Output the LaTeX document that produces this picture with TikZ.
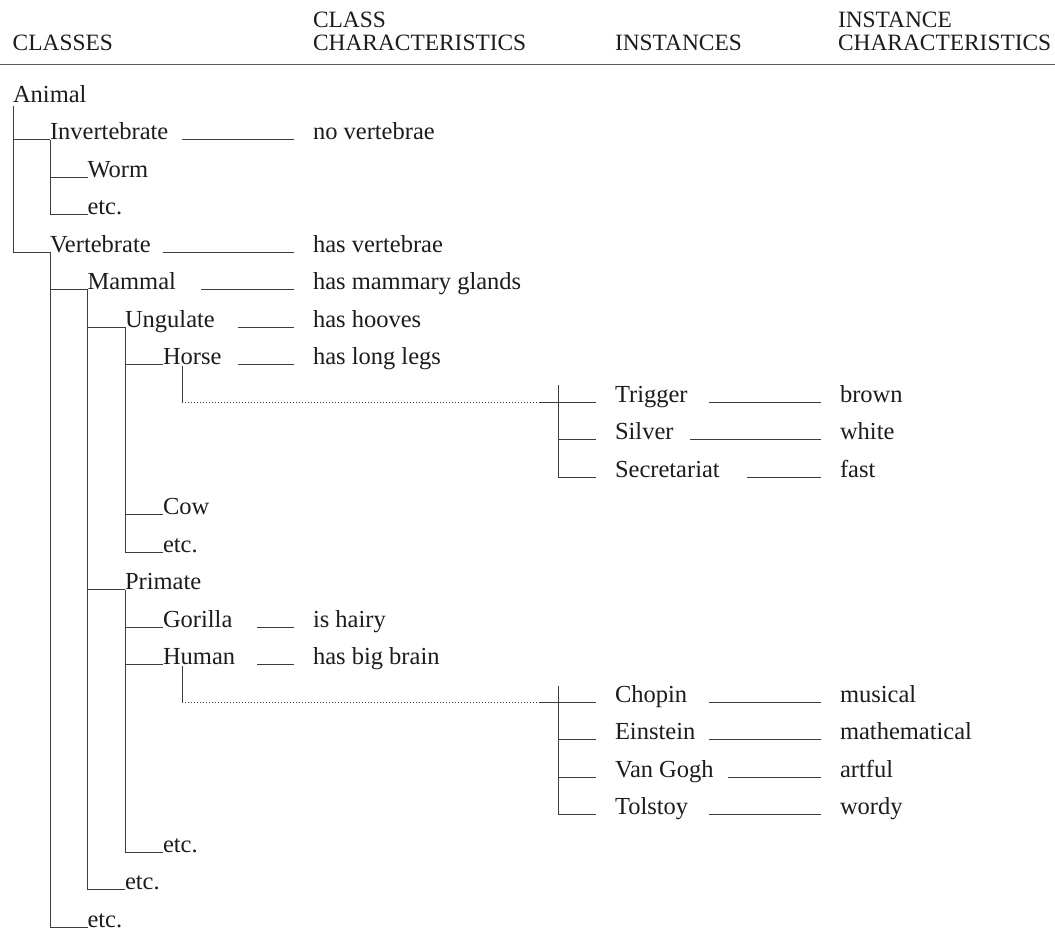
\documentclass[tikz,border=0pt]{standalone}
\usepackage{fontspec}
\setmainfont{Liberation Serif}
\usetikzlibrary{calc}
\definecolor{ink}{HTML}{1E1B1C}
\definecolor{wire}{HTML}{3C3C3C}
\definecolor{rulegray}{HTML}{5A5A5A}
\tikzset{
  lbl/.style={anchor=base west, inner sep=0pt, outer sep=0pt, text=ink,
              font=\fontsize{24.5}{29}\selectfont},
  hdr/.style={lbl, font=\fontsize{23.4}{28}\selectfont},
  link/.style={draw=wire, line width=1pt},
  leader/.style={draw=wire, line width=1pt},
  dots/.style={draw=wire, line width=0.8pt, dash pattern=on 1.2pt off 1.8pt},
  headrule/.style={draw=rulegray, line width=1.7pt},
}
\begin{document}
\begin{tikzpicture}[x=1pt,y=-1pt]
\useasboundingbox (0,0) rectangle (1055,932);

% column headings
\node[hdr] (hcls) at (12.7,50) {CLASSES};
\node[hdr] (hcc1) at (313,27.7) {CLASS};
\node[hdr] (hcc2) at (313,50) {CHARACTERISTICS};
\node[hdr] (hins) at (615,50) {INSTANCES};
\node[hdr] (hic1) at (838,27.7) {INSTANCE};
\node[hdr] (hic2) at (838,50) {CHARACTERISTICS};
\coordinate (ruleL) at (0,64.5);
\coordinate (ruleR) at (1055,64.5);
\draw[headrule] (ruleL) -- (ruleR);

% class hierarchy (rows 37.5 apart)
\node[lbl] (animal) at (13,102)    {Animal};
\node[lbl] (inv)    at (50,139.5)  {Invertebrate};
\node[lbl] (worm)   at (87.5,177)  {Worm};
\node[lbl] (etcA)   at (87.5,214.5){etc.};
\node[lbl] (vert)   at (50,252)    {Vertebrate};
\node[lbl] (mam)    at (87.5,289.5){Mammal};
\node[lbl] (ung)    at (125,327)   {Ungulate};
\node[lbl] (horse)  at (163,364.5) {Horse};
\node[lbl] (cow)    at (163,514.5) {Cow};
\node[lbl] (etcB)   at (163,552)   {etc.};
\node[lbl] (prim)   at (125,589.5) {Primate};
\node[lbl] (gor)    at (163,627)   {Gorilla};
\node[lbl] (hum)    at (163,664.5) {Human};
\node[lbl] (etcC)   at (163,852)   {etc.};
\node[lbl] (etcD)   at (125,889.5) {etc.};
\node[lbl] (etcE)   at (87.5,927)  {etc.};

% class characteristics
\node[lbl] (novert)  at (313,139.5) {no vertebrae};
\node[lbl] (hasvert) at (313,252)   {has vertebrae};
\node[lbl] (glands)  at (313,289.5) {has mammary glands};
\node[lbl] (hooves)  at (313,327)   {has hooves};
\node[lbl] (legs)    at (313,364.5) {has long legs};
\node[lbl] (hairy)   at (313,627)   {is hairy};
\node[lbl] (brain)   at (313,664.5) {has big brain};

% instances
\node[lbl] (trig) at (615,402)   {Trigger};
\node[lbl] (silv) at (615,439.5) {Silver};
\node[lbl] (secr) at (615,477)   {Secretariat};
\node[lbl] (chop) at (615,702)   {Chopin};
\node[lbl] (ein)  at (615,739.5) {Einstein};
\node[lbl] (vang) at (615,777)   {Van Gogh};
\node[lbl] (tol)  at (615,814.5) {Tolstoy};

% instance characteristics
\node[lbl] (brown)  at (840,402)   {brown};
\node[lbl] (white)  at (840,439.5) {white};
\node[lbl] (fast)   at (840,477)   {fast};
\node[lbl] (music)  at (840,702)   {musical};
\node[lbl] (math)   at (840,739.5) {mathematical};
\node[lbl] (artful) at (840,777)   {artful};
\node[lbl] (wordy)  at (840,814.5) {wordy};

% tree connectors
\draw[link] ([yshift=-4pt]animal.base west) |- (inv.base west);
\draw[link] ([yshift=-4pt]animal.base west) |- (vert.base west);
\draw[link] (inv.base west) |- (worm.base west);
\draw[link] (inv.base west) |- (etcA.base west);
\draw[link] (vert.base west) |- (mam.base west);
\draw[link] (vert.base west) |- (etcE.base west);
\draw[link] (mam.base west) |- (ung.base west);
\draw[link] (mam.base west) |- (prim.base west);
\draw[link] (mam.base west) |- (etcD.base west);
\draw[link] (ung.base west) |- (horse.base west);
\draw[link] (ung.base west) |- (cow.base west);
\draw[link] (ung.base west) |- (etcB.base west);
\draw[link] (prim.base west) |- (gor.base west);
\draw[link] (prim.base west) |- (hum.base west);
\draw[link] (prim.base west) |- (etcC.base west);

% leaders to class characteristics
\draw[leader] (inv.base -| 182,0)   -- ([xshift=-19pt]novert.base west);
\draw[leader] (vert.base -| 162.5,0) -- ([xshift=-19pt]hasvert.base west);
\draw[leader] (mam.base -| 201,0)   -- ([xshift=-19pt]glands.base west);
\draw[leader] (ung.base -| 238,0)   -- ([xshift=-19pt]hooves.base west);
\draw[leader] (horse.base -| 238,0) -- ([xshift=-19pt]legs.base west);
\draw[leader] (gor.base -| 257,0)   -- ([xshift=-19pt]hairy.base west);
\draw[leader] (hum.base -| 257,0)   -- ([xshift=-19pt]brain.base west);

% Horse -> its instances
\coordinate (hdrop) at ([xshift=19pt,yshift=-1.5pt]horse.base west);
\coordinate (hturn) at (hdrop |- trig.base);
\coordinate (hjoin) at (539,402);
\coordinate (htop)  at (558,385);
\draw[link] (hdrop) -- (hturn);
\draw[dots] (hturn) -- (hjoin);
\draw[link] (hjoin) -- ([xshift=-19pt]trig.base west);
\draw[link] (htop) |- ([xshift=-19pt]silv.base west);
\draw[link] (htop) |- ([xshift=-19pt]secr.base west);

% Human -> its instances
\coordinate (udrop) at ([xshift=19pt,yshift=-1.5pt]hum.base west);
\coordinate (uturn) at (udrop |- chop.base);
\coordinate (ujoin) at (539,702);
\coordinate (utop)  at (558,686);
\draw[link] (udrop) -- (uturn);
\draw[dots] (uturn) -- (ujoin);
\draw[link] (ujoin) -- ([xshift=-19pt]chop.base west);
\draw[link] (utop) |- ([xshift=-19pt]ein.base west);
\draw[link] (utop) |- ([xshift=-19pt]vang.base west);
\draw[link] (utop) |- ([xshift=-19pt]tol.base west);

% leaders to instance characteristics
\draw[leader] (trig.base -| 709,0) -- ([xshift=-19pt]brown.base west);
\draw[leader] (silv.base -| 690,0) -- ([xshift=-19pt]white.base west);
\draw[leader] (secr.base -| 747,0) -- ([xshift=-19pt]fast.base west);
\draw[leader] (chop.base -| 709,0) -- ([xshift=-19pt]music.base west);
\draw[leader] (ein.base -| 709,0)  -- ([xshift=-19pt]math.base west);
\draw[leader] (vang.base -| 728,0) -- ([xshift=-19pt]artful.base west);
\draw[leader] (tol.base -| 709,0)  -- ([xshift=-19pt]wordy.base west);
\end{tikzpicture}
\end{document}
